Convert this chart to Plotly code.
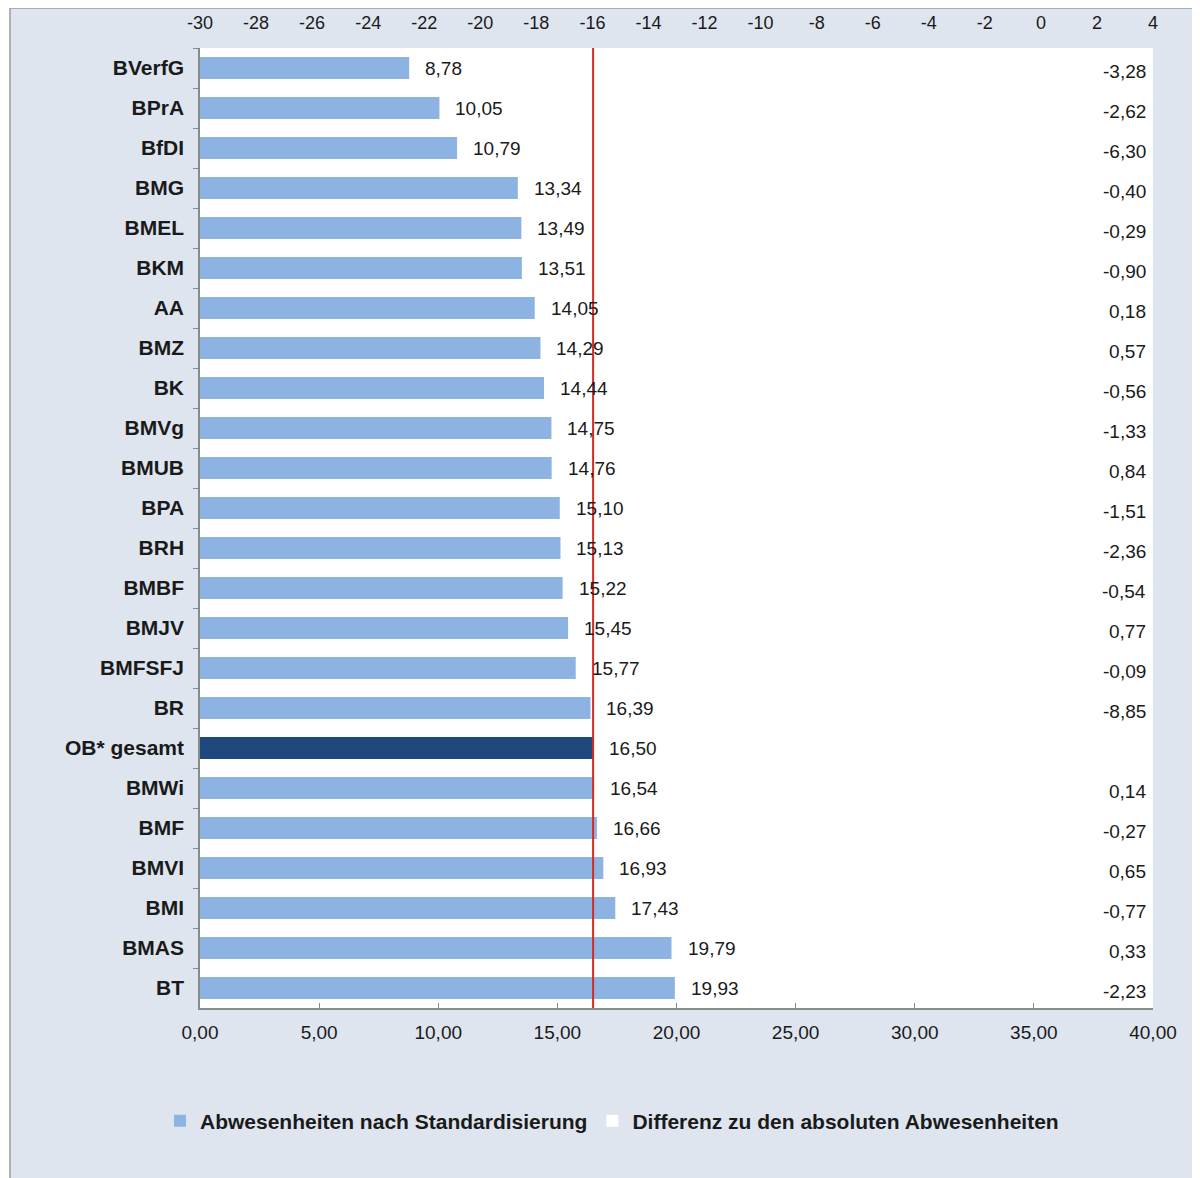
import plotly.graph_objects as go

categories = ["BVerfG", "BPrA", "BfDI", "BMG", "BMEL", "BKM", "AA", "BMZ", "BK", "BMVg",
              "BMUB", "BPA", "BRH", "BMBF", "BMJV", "BMFSFJ", "BR", "OB* gesamt", "BMWi",
              "BMF", "BMVI", "BMI", "BMAS", "BT"]
standardised = [8.78, 10.05, 10.79, 13.34, 13.49, 13.51, 14.05, 14.29, 14.44, 14.75,
                14.76, 15.10, 15.13, 15.22, 15.45, 15.77, 16.39, 16.50, 16.54,
                16.66, 16.93, 17.43, 19.79, 19.93]
difference = [-3.28, -2.62, -6.30, -0.40, -0.29, -0.90, 0.18, 0.57, -0.56, -1.33,
              0.84, -1.51, -2.36, -0.54, 0.77, -0.09, -8.85, None, 0.14,
              -0.27, 0.65, -0.77, 0.33, -2.23]
top_ticks = list(range(-30, 5, 2))
bottom_ticks = [0, 5, 10, 15, 20, 25, 30, 35, 40]
total_label = "OB* gesamt"

LIGHT = "#8db3e2"
DARK = "#1f487c"
BG = "#dee5ef"
FONT = "Liberation Sans, Arial, sans-serif"
TXT = "#1a1a1a"

# page body has an 8px margin; figure coordinates compensate for it
L, T, PW, PH = 192, 40, 953, 960
W, H = 1200, 1178

def de(v):
    return f"{v:.2f}".replace(".", ",")

colors = [DARK if c == total_label else LIGHT for c in categories]

fig = go.Figure()
fig.add_trace(go.Bar(
    y=categories, x=standardised, orientation="h", xaxis="x", yaxis="y",
    marker=dict(color=colors, line=dict(width=0)),
    name="Abwesenheiten nach Standardisierung",
))
fig.add_trace(go.Bar(
    y=categories, x=difference, orientation="h", xaxis="x2", yaxis="y",
    marker=dict(color="white", line=dict(width=0)),
    name="Differenz zu den absoluten Abwesenheiten",
))

annotations = []
for c, v in zip(categories, standardised):
    annotations.append(dict(x=v, y=c, xref="x", yref="y", text=de(v), showarrow=False,
                            xanchor="left", xshift=14, font=dict(family=FONT, size=19, color=TXT)))
for c, v in zip(categories, difference):
    if v is None:
        continue
    annotations.append(dict(x=0.995, y=c, xref="paper", yref="y", text=de(v), showarrow=False,
                            xanchor="right", yshift=-3, font=dict(family=FONT, size=19, color=TXT)))

total_value = standardised[categories.index(total_label)]

def px_x(p):
    return (p - L) / PW

def px_y(p):
    return (T + PH - p) / PH

fig.update_layout(
    width=W, height=H,
    margin=dict(l=L, r=W - L - PW, t=T, b=H - T - PH, autoexpand=False),
    paper_bgcolor=BG,
    plot_bgcolor="white",
    separators=",.",
    barmode="overlay",
    bargap=0.45,
    showlegend=True,
    legend=dict(orientation="h", x=px_x(604), y=px_y(1113), xanchor="center", yanchor="middle",
                font=dict(family=FONT, size=21, color=TXT, weight="bold"), bgcolor="rgba(0,0,0,0)",
                itemwidth=30, tracegroupgap=0),
    font=dict(family=FONT, size=18, color=TXT),
    xaxis=dict(range=[0, 40], tickvals=bottom_ticks, tickformat=".2f", showgrid=False,
               zeroline=False, showline=True, linecolor="#8a8a8a", linewidth=1.5,
               ticks="inside", ticklen=5, tickcolor="#8a8a8a", ticklabelstandoff=6,
               automargin=False, tickfont=dict(family=FONT, size=19, color=TXT)),
    xaxis2=dict(range=[-30, 4], overlaying="x", side="top", tickvals=top_ticks,
                ticktext=[str(t) for t in top_ticks], showgrid=False, zeroline=False,
                showline=False, ticks="", ticklabelstandoff=14, automargin=False,
                tickfont=dict(family=FONT, size=18, color=TXT)),
    yaxis=dict(categoryorder="array", categoryarray=categories, autorange="reversed",
               tickson="boundaries", ticks="outside", ticklen=5, tickcolor="#8a8a8a",
               showline=True, linecolor="#8a8a8a", linewidth=1.5, showgrid=False,
               ticklabelstandoff=10, automargin=False,
               tickfont=dict(family=FONT, size=21, color=TXT, weight="bold")),
    annotations=annotations,
    shapes=[
        # white strip left of the frame
        dict(type="rect", xref="paper", yref="paper", x0=px_x(-20), x1=px_x(2), y0=px_y(H + 20), y1=px_y(-20),
             fillcolor="white", line=dict(width=0), layer="below"),
        # frame lines
        dict(type="line", xref="paper", yref="paper", x0=px_x(2), x1=px_x(2), y0=px_y(H + 20), y1=px_y(0),
             line=dict(color="#9a9a9a", width=1.5), layer="below"),
        dict(type="line", xref="paper", yref="paper", x0=px_x(2), x1=px_x(W + 20), y0=px_y(0), y1=px_y(0),
             line=dict(color="#9a9a9a", width=1.5), layer="below"),
        dict(type="line", xref="x", yref="paper", x0=total_value, x1=total_value, y0=0, y1=1,
             line=dict(color="#d42a20", width=2)),
    ],
)
fig.update_traces(selector=dict(type="bar"), textposition="none")

fig.write_html("out.html")
